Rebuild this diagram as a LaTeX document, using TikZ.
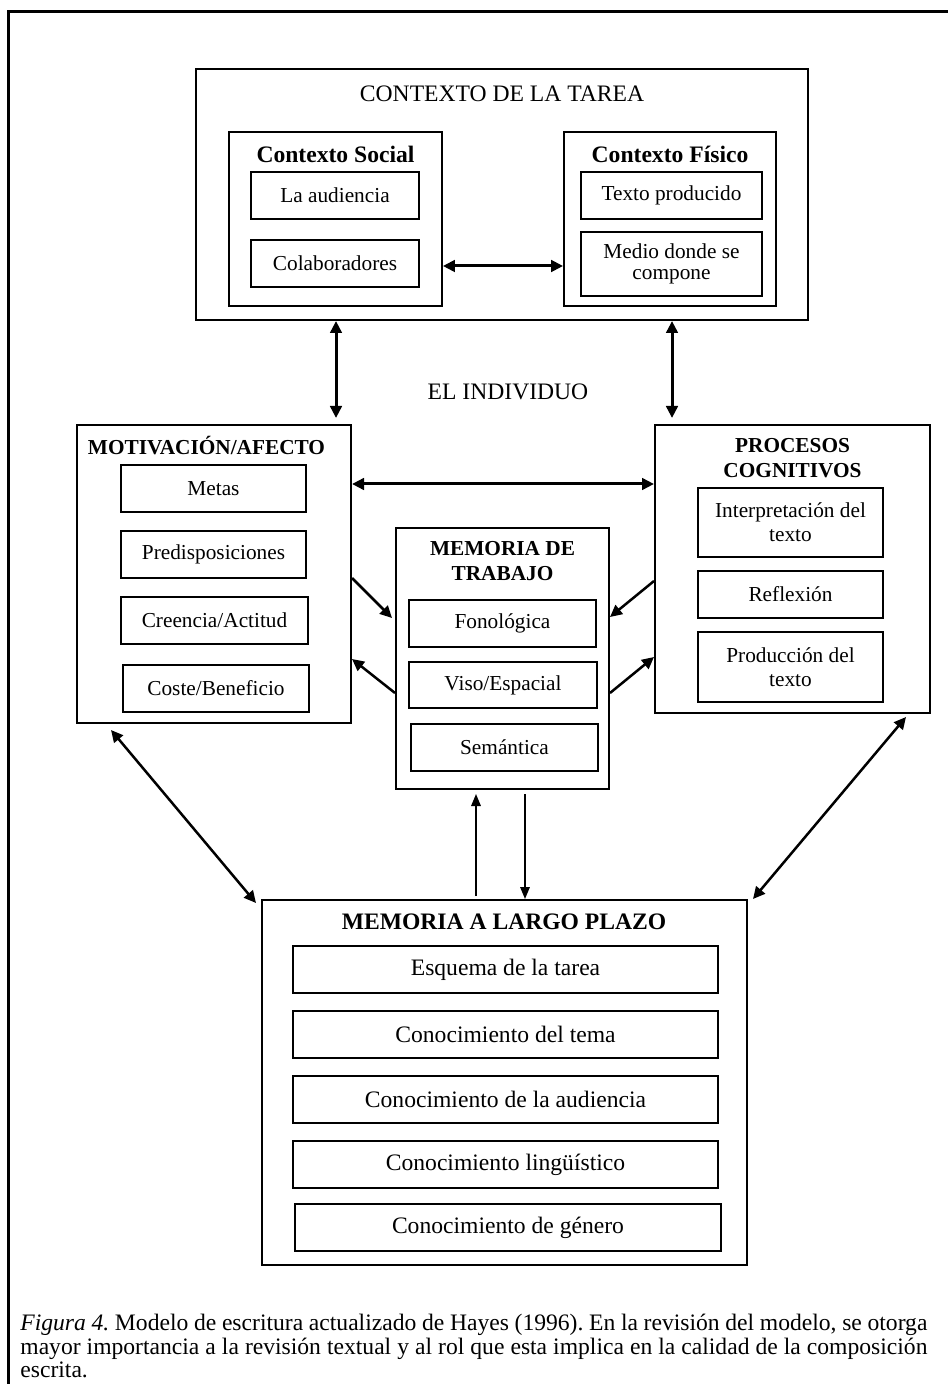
\documentclass[tikz,border=0pt]{standalone}
\usepackage{fontspec}
\setmainfont{Liberation Serif}
\usetikzlibrary{arrows.meta}
\frenchspacing

% type sizes
\newcommand\nrm{\fontsize{10.65pt}{12pt}\selectfont}
\newcommand\lrg{\fontsize{11.8pt}{12.6pt}\selectfont}

% rectangle node given by its corner coordinates: name, style, x1, y1, x2, y2, text
\newcommand\rect[7]{%
  \node[#2, minimum width={(#5-(#3))*0.5pt}, minimum height={(#6-(#4))*0.5pt}]
    (#1) at ({(#3+#5)/2},{(#4+#6)/2}) {#7};}

\tikzset{
  bigbox/.style={draw, line width=1pt, inner sep=0pt},
  itembox/.style={draw, line width=0.85pt, inner sep=0pt, align=center, font=\nrm},
  ltmbox/.style={draw, line width=0.85pt, inner sep=0pt, align=center, font=\lrg},
  heading/.style={inner sep=0pt, align=center, font=\fontsize{10.65pt}{12.4pt}\selectfont\bfseries},
  bigheading/.style={inner sep=0pt, align=center, font=\lrg\bfseries},
  label/.style={inner sep=0pt, font=\lrg},
  bigtip/.style={>={Triangle[length=6pt,width=5.75pt]}},
  smalltip/.style={>={Triangle[length=6pt,width=4.75pt]}},
  thickarrow/.style={bigtip, line width=1.5pt},
  midarrow/.style={bigtip, line width=1.25pt},
  thinarrow/.style={smalltip, line width=0.8pt},
  captionline/.style={anchor=base west, inner sep=0pt, font=\lrg},
}

\begin{document}
\begin{tikzpicture}[x=0.5pt, y=-0.5pt]
\useasboundingbox (0,0) rectangle (947,1384);

% page frame
\draw[line width=1.5pt] (8,1390) -- (8,12) -- (950,12);

% task context
\rect{ctx}{bigbox}{196}{69}{808}{320}{}
\node[label] (ctxtitle) at (502,94) {CONTEXTO DE LA TAREA};

\rect{cs}{bigbox, line width=0.9pt}{229}{132}{442}{306}{}
\node[bigheading] (cshead) at (335.5,154) {Contexto Social};
\rect{aud}{itembox}{251}{172}{419}{219}{La audiencia}
\rect{col}{itembox}{251}{240}{419}{287}{Colaboradores}

\rect{cf}{bigbox, line width=0.9pt}{564}{132}{776}{306}{}
\node[bigheading] (cfhead) at (670,154) {Contexto Físico};
\rect{txt}{itembox}{581}{172}{762}{219}{Texto producido}
\rect{med}{itembox, font=\fontsize{10.65pt}{10.8pt}\selectfont}{581}{232}{762}{296}{Medio donde se\\compone}

% the individual
\node[label] (ind) at (508,392) {EL INDIVIDUO};

\rect{mot}{bigbox}{77}{425}{351}{723}{}
\node[heading] (mothead) at (206.5,446) {MOTIVACIÓN/AFECTO};
\rect{met}{itembox}{121}{465}{306}{512}{Metas}
\rect{pre}{itembox}{121}{531}{306}{578}{Predisposiciones}
\rect{cre}{itembox}{121}{597}{308}{644}{Creencia/Actitud}
\rect{cos}{itembox}{123}{665}{309}{712}{Coste/Beneficio}

\rect{pc}{bigbox}{655}{425}{930}{713}{}
\node[heading] (pchead) at (792.5,458.5) {PROCESOS\\COGNITIVOS};
\rect{int}{itembox}{698}{488}{883}{557}{Interpretación del\\texto}
\rect{ref}{itembox}{698}{571}{883}{618}{Reflexión}
\rect{pro}{itembox}{698}{632}{883}{702}{Producción del\\texto}

\rect{mt}{bigbox}{396}{528}{609}{789}{}
\node[heading] (mthead) at (502.5,561) {MEMORIA DE\\TRABAJO};
\rect{fon}{itembox}{409}{600}{596}{647}{Fonológica}
\rect{vis}{itembox}{409}{662}{597}{708}{Viso/Espacial}
\rect{sem}{itembox}{411}{724}{598}{771}{Semántica}

\rect{mlp}{bigbox}{262}{900}{747}{1265}{}
\node[bigheading] (mlphead) at (504,922) {MEMORIA A LARGO PLAZO};
\rect{esq}{ltmbox}{293}{946}{718}{993}{Esquema de la tarea}
\rect{tem}{ltmbox}{293}{1011}{718}{1058}{Conocimiento del tema}
\rect{caud}{ltmbox}{293}{1076}{718}{1123}{Conocimiento de la audiencia}
\rect{lin}{ltmbox}{293}{1141}{718}{1188}{Conocimiento lingüístico}
\rect{gen}{ltmbox}{295}{1204}{721}{1251}{Conocimiento de género}

% connectors
\draw[thickarrow, <->] ([yshift=-23.5pt]cs.east) -- ([yshift=-23.5pt]cs.east -| cf.west);
\draw[thickarrow, <->] ([xshift=-8pt]mot.north east |- ctx.south) -- ([xshift=-8pt,yshift=3pt]mot.north east);
\draw[thickarrow, <->] ([xshift=9pt]pc.north west |- ctx.south) -- ([xshift=9pt,yshift=3pt]pc.north west);
\draw[thickarrow, <->] ([yshift=45pt]mot.east) -- ([yshift=45pt]mot.east -| pc.west);

\draw[midarrow, ->] ([yshift=-2pt]mot.east) -- ([xshift=-1.5pt,yshift=20.25pt]mt.west);
\draw[midarrow, ->] ([yshift=-17.25pt]mt.west) -- ([yshift=-42.5pt]mot.east);
\draw[midarrow, ->] ([yshift=-6pt]pc.west) -- ([yshift=20.75pt]mt.east);
\draw[midarrow, ->] ([yshift=-17.25pt]mt.east) -- ([yshift=-44pt]pc.west);

\draw[thinarrow, ->] ([xshift=-13.25pt,yshift=1.5pt]mt.south |- mlp.north) -- ([xshift=-13.25pt,yshift=-2pt]mt.south);
\draw[thinarrow, ->] ([xshift=11.25pt,yshift=-2pt]mt.south) -- ([xshift=11.25pt]mt.south |- mlp.north);

\draw[midarrow, <->] ([xshift=17.5pt,yshift=-3pt]mot.south west) -- ([xshift=-2.5pt,yshift=-2pt]mlp.north west);
\draw[midarrow, <->] ([xshift=-12.5pt,yshift=-1.5pt]pc.south east) -- ([xshift=2.5pt]mlp.north east);

% caption
\node[captionline] (cap1) at (20,1330) {\makebox[453.5pt][s]{\textit{Figura 4.} Modelo de escritura actualizado de Hayes (1996). En la revisión del modelo, se otorga}};
\node[captionline] (cap2) at (20,1354) {\makebox[453.5pt][s]{mayor importancia a la revisión textual y al rol que esta implica en la calidad de la composición}};
\node[captionline] (cap3) at (20,1377) {escrita.};
\end{tikzpicture}
\end{document}
